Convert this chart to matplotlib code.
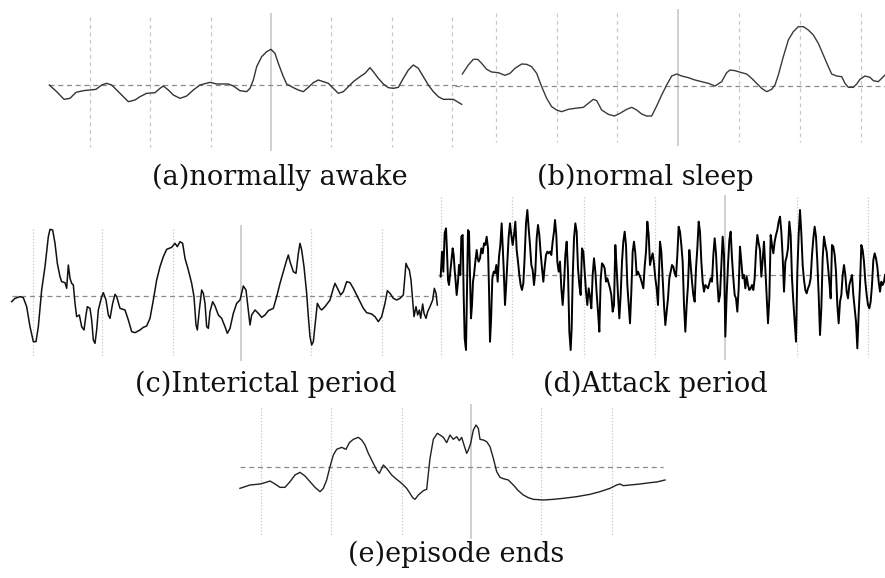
import matplotlib
matplotlib.use("Agg")
import matplotlib.pyplot as plt
import numpy as np

# 데이터: 그림에서 읽은 샘플 위치(x)와 진폭 값(y, 아래쪽이 양수 - 음성 위쪽 EEG 관례)
# (a) normally awake
a_x = [28, 50, 72, 90, 108, 130, 150, 168, 185, 200, 215, 240, 265, 285, 300, 320, 345, 360, 370, 385,
       400, 420, 440, 460, 480, 510, 530, 550, 565, 580, 600, 620, 630, 640, 650, 665, 680, 693, 705, 715,
       730, 740, 760, 775, 790, 805, 820, 835, 850, 865, 880, 895, 910, 925, 940, 960, 975, 990, 1000, 1015,
       1030, 1045, 1060, 1075, 1090, 1105, 1120, 1135, 1150, 1165, 1180, 1195, 1210, 1240, 1265]
a_y = [255, 275, 298, 295, 277, 272, 270, 268, 255, 250, 255, 280, 305, 300, 290, 280, 278, 265, 258, 270,
       285, 295, 288, 270, 255, 247, 252, 252, 252, 258, 272, 275, 265, 240, 200, 170, 155, 148, 160, 190,
       230, 252, 263, 270, 275, 262, 248, 240, 245, 250, 265, 280, 275, 260, 245, 230, 220, 203, 215, 235,
       252, 263, 265, 262, 235, 210, 195, 205, 230, 255, 275, 290, 298, 298, 313]
a_ref = 255
a_grid = [150, 330, 512, 873, 1055, 1236]
a_mid = 692

# (b) normal sleep
b_x = [22, 40, 55, 68, 80, 95, 110, 130, 150, 165, 180, 200, 215, 230, 245, 260, 275, 290, 305, 320,
       340, 360, 385, 400, 415, 425, 440, 460, 478, 495, 515, 530, 545, 560, 575, 590, 605, 620, 635, 650,
       665, 680, 700, 720, 740, 760, 780, 800, 815, 825, 840, 860, 875, 890, 905, 920, 935, 950, 960, 970,
       985, 1000, 1015, 1030, 1045, 1060, 1075, 1090, 1105, 1120, 1130, 1145, 1160, 1170, 1180, 1195, 1205,
       1215, 1230, 1245, 1255, 1270, 1280, 1290]
b_y = [222, 195, 178, 178, 190, 208, 216, 218, 226, 220, 205, 192, 193, 200, 220, 260, 295, 320, 330, 335,
       328, 325, 322, 310, 298, 302, 330, 343, 348, 340, 328, 322, 330, 342, 348, 348, 318, 285, 255, 228,
       222, 228, 233, 240, 245, 250, 258, 245, 218, 210, 212, 218, 222, 235, 250, 265, 275, 268, 255, 225,
       170, 120, 95, 80, 80, 90, 105, 130, 165, 200, 222, 228, 230, 250, 262, 262, 252,
       238, 228, 232, 242, 245, 235, 225]
b_ref = 258
b_grid = [122, 305, 487, 853, 1035, 1218]
b_mid = 670

# (c) Interictal period
c_x = [35, 45, 60, 70, 80, 90, 100, 108, 115, 125, 135, 145, 150, 158, 165, 172, 180, 185, 195, 200,
       205, 210, 215, 220, 225, 230, 238, 245, 252, 258, 262, 270, 275, 280, 285, 290, 295, 305, 310, 318,
       325, 330, 338, 345, 350, 360, 375, 385, 395, 405, 420, 430, 440, 450, 460, 470, 480, 490, 500, 515,
       525, 532, 540, 548, 555, 565, 575, 582, 588, 592, 598, 605, 610, 615, 620, 625, 630, 638, 645, 655,
       665, 675, 682, 690, 700, 710, 720, 730, 738, 745, 750, 755, 765, 775, 785, 795, 805, 820, 830, 840,
       850, 860, 865, 870, 880, 888, 895, 900, 905, 912, 920, 925, 930, 935, 940, 948, 952, 960, 965, 975,
       990, 1000, 1005, 1015, 1022, 1030, 1040, 1050, 1060, 1070, 1080, 1090, 1100, 1115, 1125, 1135, 1145,
       1155, 1162, 1170, 1180, 1190, 1200, 1210, 1218, 1222, 1228, 1233, 1238, 1242, 1248, 1253, 1258, 1262,
       1268, 1272, 1278, 1283, 1290, 1298, 1303, 1308, 1312]
c_y = [305, 295, 290, 293, 320, 380, 425, 425, 380, 270, 200, 110, 88, 90, 130, 190, 230, 245, 248, 265,
       195, 235, 250, 255, 310, 350, 345, 380, 390, 345, 320, 325, 360, 420, 430, 390, 330, 290, 278, 300,
       345, 355, 310, 283, 290, 325, 330, 360, 395, 398, 390, 382, 378, 355, 300, 240, 200, 170, 148, 142,
       130, 140, 125, 130, 175, 210, 250, 290, 375, 390, 330, 270, 280, 310, 380, 385, 335, 305, 318, 345,
       355, 380, 400, 385, 340, 310, 300, 258, 270, 330, 375, 345, 330, 340, 352, 345, 332, 325, 290, 250,
       215, 180, 165, 185, 215, 220, 160, 130, 150, 200, 280, 350, 410, 435, 425, 350, 310, 325, 330, 320,
       300, 265, 250, 270, 285, 275, 245, 248, 265, 285, 305, 325, 338, 342, 350, 365, 350,
       310, 272, 280, 295, 300, 295, 285, 190, 200, 210, 240, 300, 350, 320, 345, 330, 355,
       312, 340, 355, 335, 320, 300, 265, 280, 315]
c_ref = 287
c_grid = [98, 306, 518, 932, 1145]
c_mid = 724

# (d) Attack period
d_x = [8, 12, 16, 20, 24, 27, 30, 33, 36, 40, 44, 47, 50, 53, 56, 60, 63, 67, 70, 74,
       77, 80, 84, 87, 90, 93, 96, 99, 102, 105, 108, 112, 116, 119, 122, 126, 130, 134, 138, 142,
       146, 150, 153, 156, 159, 163, 167, 171, 175, 179, 183, 187, 191, 194, 197, 201, 204, 208, 212, 216,
       220, 224, 228, 232, 236, 240, 244, 248, 252, 256, 260, 264, 268, 272, 276, 280, 284, 288, 292, 296,
       300, 304, 308, 312, 316, 320, 324, 328, 332, 336, 340, 344, 348, 351, 355, 358, 362, 366, 370, 374,
       378, 382, 386, 390, 394, 398, 401, 404, 408, 412, 416, 420, 424, 428, 432, 436, 440, 444, 448, 452,
       456, 460, 464, 468, 472, 476, 480, 484, 488, 492, 496, 500, 504, 508, 512, 516, 520, 524, 528, 532,
       536, 540, 544, 548, 552, 556, 560, 564, 568, 572, 576, 580, 584, 588, 592, 596, 600, 604, 608, 612,
       616, 620, 624, 628, 632, 636, 640, 644, 648, 652, 656, 660,
       666, 670, 674, 678, 682, 686, 690, 694, 698, 702, 706, 710, 714, 718, 722, 726, 730, 734, 738, 742,
       746, 750, 754, 758, 762, 766, 770, 774, 778, 782, 786, 790, 794, 798, 802, 806, 810, 814, 818, 822,
       826, 830, 834, 838, 842, 846, 850, 854, 858, 862, 866, 870, 874, 878, 882, 886, 890, 894, 898, 902,
       906, 910, 914, 918, 922, 926, 930, 934, 938, 942, 946, 950, 954, 958, 962, 966, 970, 974, 978, 982,
       986, 990, 994, 998, 1002, 1006, 1010, 1014, 1018, 1022, 1026, 1030, 1034, 1038, 1042, 1046, 1050, 1054, 1058, 1062,
       1066, 1070, 1074, 1078, 1082, 1086, 1090, 1094, 1098, 1102, 1106, 1110, 1114, 1118, 1122, 1126, 1130, 1134, 1138, 1142,
       1146, 1150, 1154, 1158, 1162, 1166, 1170, 1174, 1178, 1182, 1186, 1190, 1194, 1198, 1202, 1206, 1210, 1214, 1218, 1222,
       1226, 1230, 1234, 1238, 1242, 1246, 1250, 1254, 1258, 1262, 1266, 1270, 1274, 1278, 1282, 1286, 1290, 1294, 1298, 1302,
       1306, 1310, 1314, 1318, 1322, 1326, 1330, 1334, 1338, 1341]
d_y = [245, 170, 230, 115, 100, 170, 255, 270, 240, 200, 160, 180, 225, 260, 300, 260, 210, 240, 125, 120,
       300, 430, 465, 290, 105, 110, 240, 370, 330, 260, 240, 200, 165, 190, 200, 190, 160, 175, 145, 150,
       125, 160, 280, 440, 380, 250, 230, 235, 210, 260, 185, 150, 85, 150, 220, 330, 280, 200, 125, 85,
       120, 150, 120, 80, 165, 200, 240, 270, 285, 265, 185, 85, 45, 100, 150, 210, 225, 270, 230, 130,
       90, 120, 175, 220, 260, 215, 180, 170, 175, 170, 180, 140, 110, 75, 120, 200, 230, 200, 280, 330,
       270, 180, 140, 230, 410, 465, 400, 250, 130, 85, 110, 220, 270, 300, 160, 170, 230, 290, 330, 280,
       305, 340, 240, 190, 230, 295, 350, 410, 255, 205, 210, 220, 260, 250, 265, 280, 300, 350, 330, 150,
       220, 300, 370, 300, 200, 140, 110, 150, 270, 330, 385, 290, 170, 140, 175, 240, 230, 240, 250, 265,
       280, 215, 170, 80, 120, 210, 190, 175, 205, 250, 280, 330,
       140, 170, 250, 330, 390, 350, 310, 250, 230, 210, 215, 235, 245, 180, 95, 110, 150, 200, 330, 410,
       330, 270, 165, 210, 260, 300, 320, 220, 160, 80, 110, 200, 260, 290, 270, 275, 280, 265, 250, 260,
       180, 130, 175, 260, 320, 300, 210, 125, 180, 425, 300, 210, 135, 110, 190, 250, 300, 310, 350, 280,
       155, 200, 250, 240, 280, 245, 270, 285, 280, 270, 285, 250, 170, 120, 145, 165, 245, 195, 140, 220,
       300, 385, 310, 120, 150, 175, 140, 120, 105, 80, 65, 110, 185, 290, 200, 185, 160, 80, 120, 250,
       320, 380, 440, 230, 120, 45, 115, 210, 255, 285, 295, 280, 270, 250, 180, 130, 95, 125, 200, 300,
       420, 340, 190, 125, 150, 170, 215, 260, 310, 150, 155, 180, 230, 330, 385, 320, 300, 240, 210, 240,
       290, 310, 270, 255, 240, 300, 340, 380, 460, 355, 270, 150, 165, 200, 260, 300, 330, 340, 320, 270,
       195, 175, 190, 215, 260, 290, 260, 270, 260, 240]
d_ref = 240
d_grid = [8, 222, 437, 652, 1076, 1291]
d_mid = 862

# (e) episode ends
e_x = [30, 60, 90, 105, 120, 135, 150, 165, 180, 195, 210, 225, 240, 255, 270, 280, 290, 300, 310, 320,
       335, 348, 358, 370, 385, 395, 405, 415, 425, 440, 448, 460, 470, 485, 500, 515, 530, 540, 548, 555,
       565, 580, 590, 600, 610, 622, 630, 640, 650, 660, 670, 680, 688, 695, 702, 710, 715, 722, 730, 738,
       745, 750, 760, 770, 780, 790, 800, 810, 820, 835, 850, 865, 880, 895, 910, 940, 970, 1000, 1040, 1080,
       1110, 1140, 1160, 1170, 1180, 1200, 1230, 1260, 1280, 1305]
e_y = [265, 255, 252, 248, 243, 252, 262, 262, 245, 225, 217, 228, 245, 262, 275, 265, 240, 200, 165, 148,
       142, 148, 128, 118, 112, 120, 135, 160, 180, 210, 220, 195, 205, 225, 238, 250, 265, 280, 293, 298,
       285, 272, 268, 175, 118, 100, 105, 112, 128, 105, 118, 110, 122, 112, 135, 160, 150, 130, 90, 75,
       85, 118, 120, 125, 140, 175, 215, 232, 236, 240, 255, 272, 285, 293, 298, 300, 298, 295, 290, 283,
       275, 265, 255, 252, 257, 255, 252, 248, 246, 240]
e_ref = 200
e_grid = [92, 302, 515, 932, 1146]
e_mid = 723

labels = ["(a)normally awake", "(b)normal sleep", "(c)Interictal period", "(d)Attack period", "(e)episode ends"]

W, H = 885, 578
fig = plt.figure(figsize=(W / 100, H / 100), dpi=100)


def panel(box, xs, ys, ref, grid, mid, span, ref_span, dot, lw, color):
    # box: 그림 위 영역(px) - 각 패널의 축 위치
    x0, y0, w, h = box
    ax = fig.add_axes([x0 / W, 1 - (y0 + h) / H, w / W, h / H])
    ax.set_xlim(0, w * 3)
    ax.set_ylim(h * 3, 0)
    ax.axis("off")
    ls = (0, (1, 1.5)) if dot else (0, (3, 3))
    ax.vlines(grid, span[0], span[1], colors="#c8c8c8", linestyles=ls, lw=0.9)
    ax.vlines([mid], span[0] - 12, span[1] + 12, colors="#c4c4c4", lw=1.1)
    ax.hlines(ref, ref_span[0], ref_span[1], colors="#8a8a8a", linestyles=(0, (4, 3)), lw=0.9)
    ax.plot(xs, ys, color=color, lw=lw)
    return ax


panel((40, 0, 430, 160), a_x, a_y, a_ref, a_grid, a_mid, (50, 440), (28, 1265), False, 1.0, "#333333")
panel((455, 0, 430, 160), b_x, b_y, b_ref, b_grid, b_mid, (40, 425), (0, 1290), False, 1.0, "#3a3a3a")
panel((0, 200, 445, 170), c_x, c_y, c_ref, c_grid, c_mid, (88, 470), (35, 1315), True, 1.1, "#111111")
panel((438, 195, 447, 165), d_x, d_y, d_ref, d_grid, d_mid, (5, 485), (0, 1341), True, 1.4, "#000000")
panel((230, 400, 440, 170), e_x, e_y, e_ref, e_grid, e_mid, (25, 405), (30, 1300), True, 1.0, "#222222")

# 패널 제목
pos = [(280, 185), (645, 185), (266, 392), (655, 392), (456, 562)]
for (tx, ty), s in zip(pos, labels):
    fig.text(tx / W, 1 - ty / H, s, ha="center", va="baseline",
             fontsize=19.5, family="DejaVu Serif", color="#111111")

fig.savefig("out.png", dpi=100)
